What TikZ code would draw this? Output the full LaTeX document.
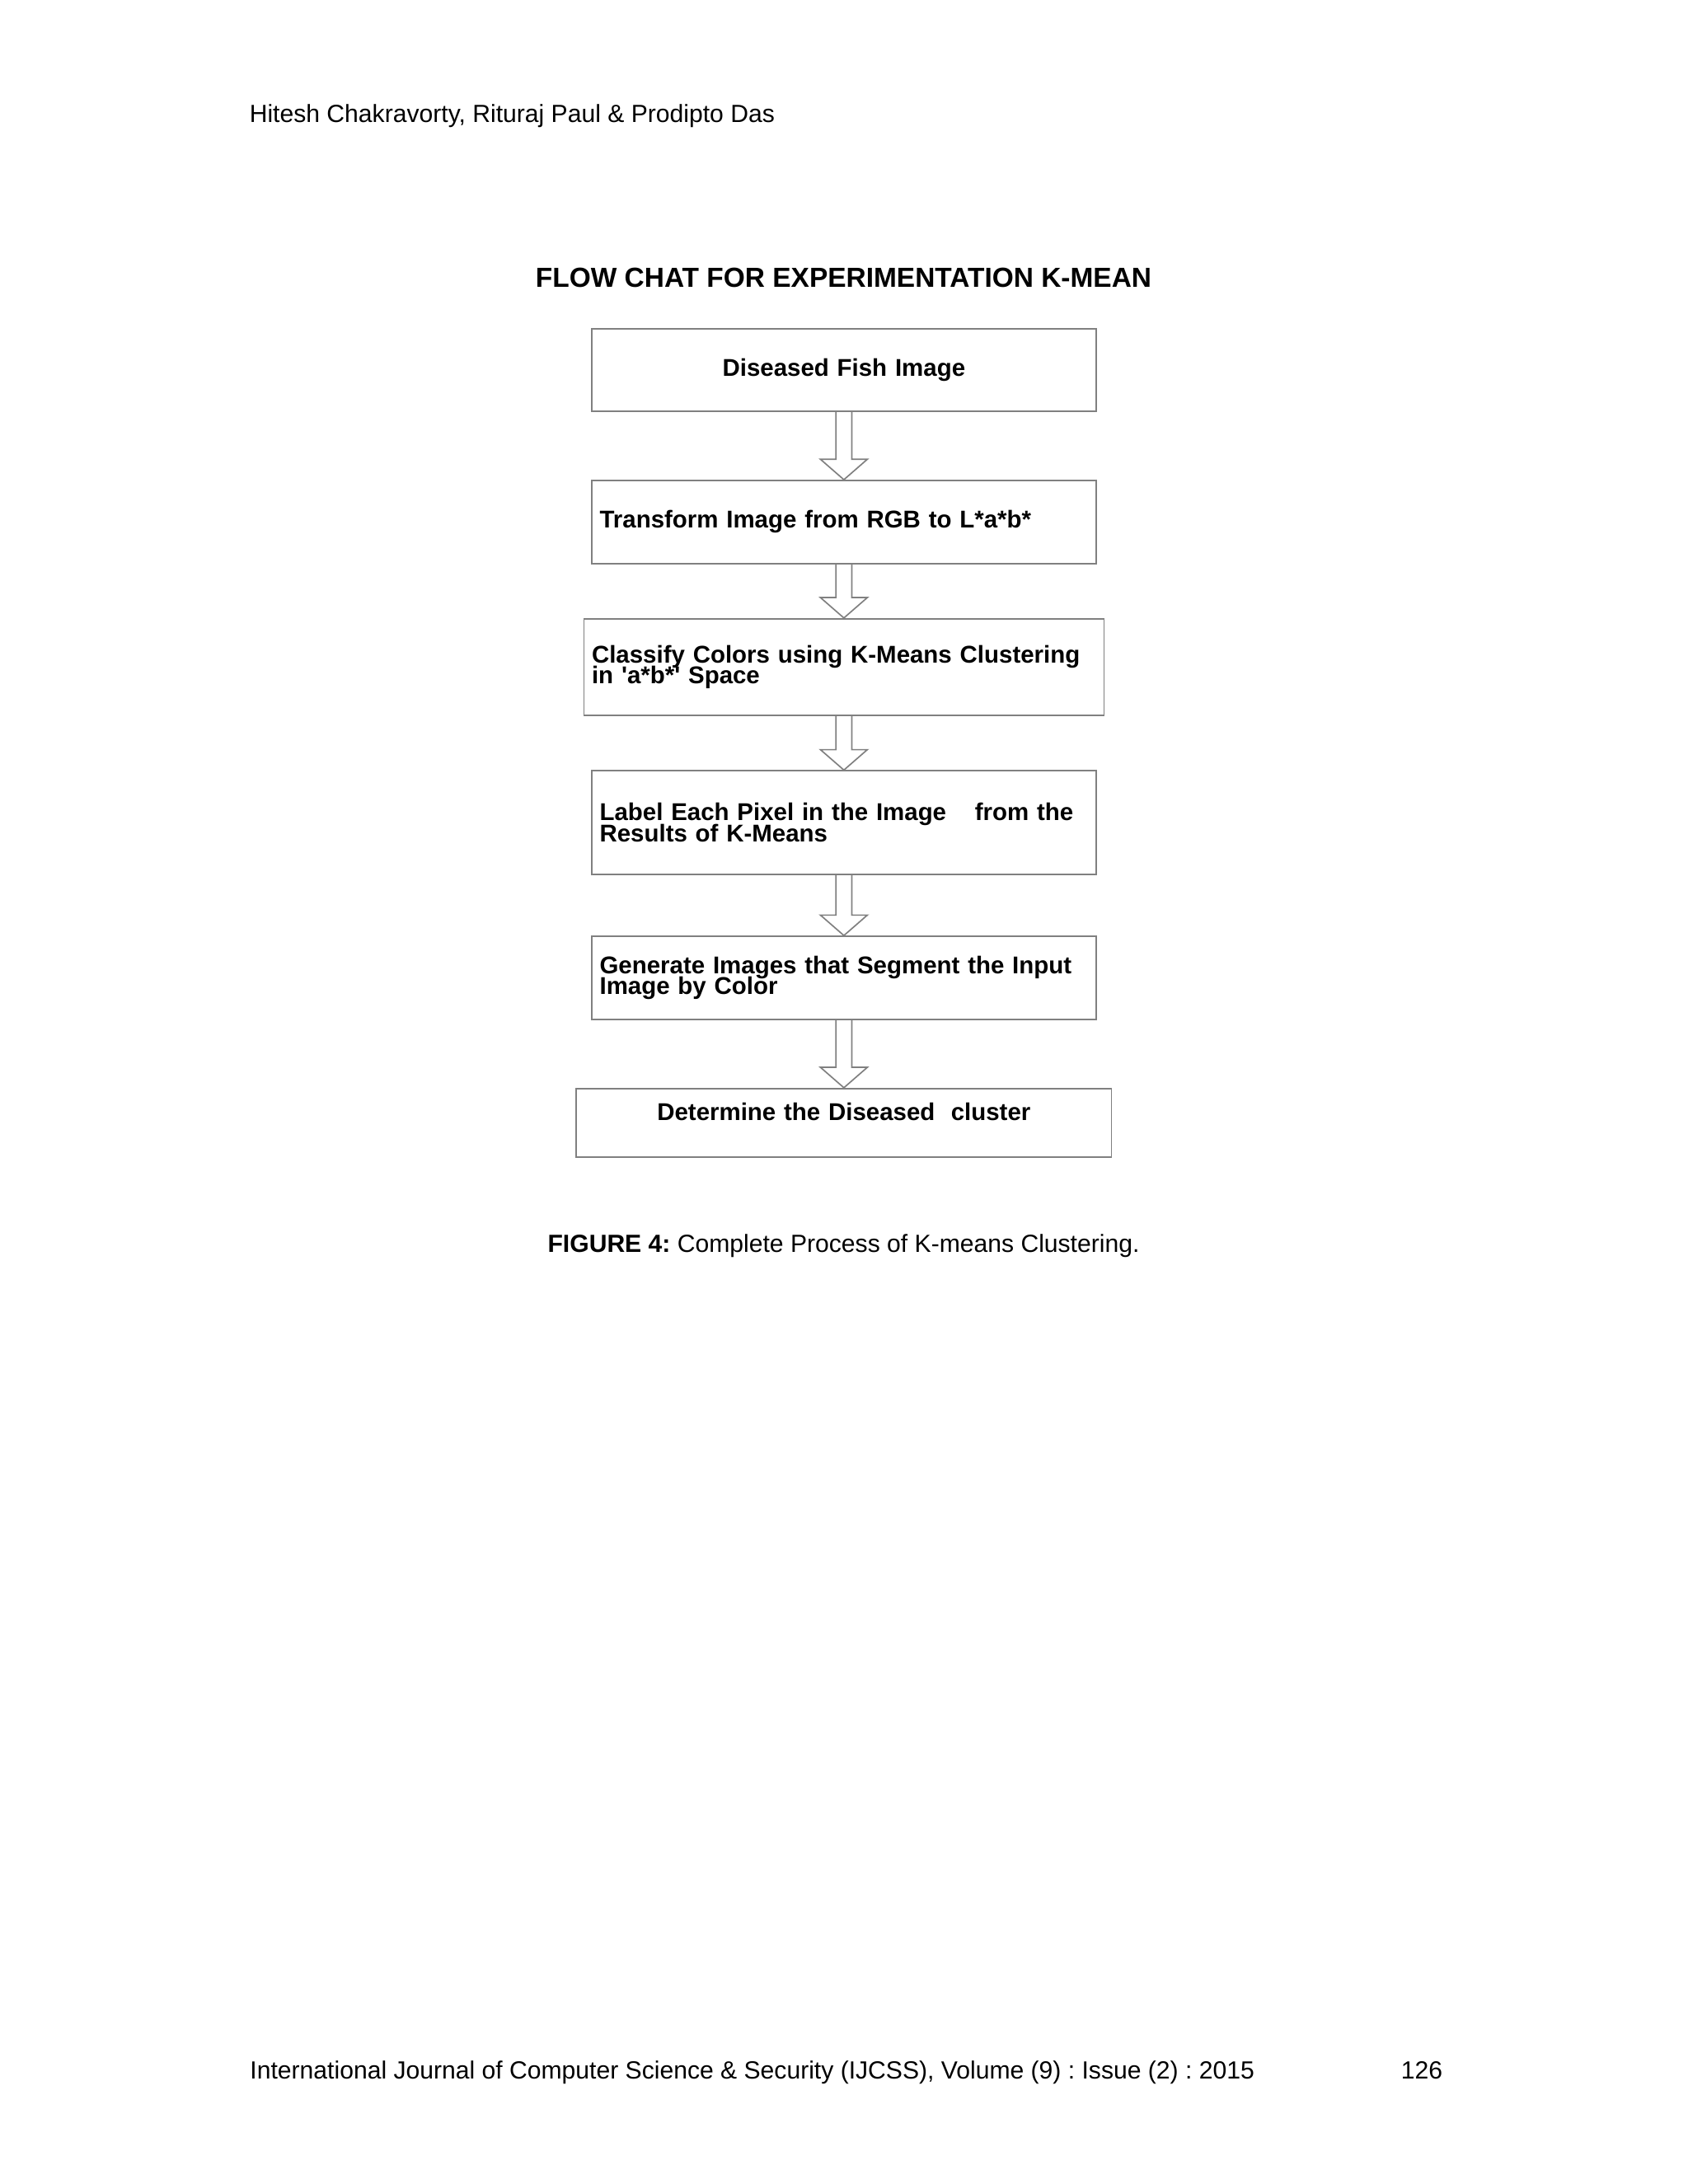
\documentclass[tikz,border=0pt]{standalone}
\usepackage{fontspec}
\setmainfont{Liberation Sans}
\usetikzlibrary{calc}
\frenchspacing

\tikzset{
  flowbox/.style={draw=gray, line width=0.5pt, fill=white, inner xsep=2.9pt, inner ysep=0pt,
    font=\bfseries\fontsize{8.8}{7.7}\selectfont,
    execute at begin node={\lineskiplimit=-10pt\relax\lineskip=0pt\relax}},
  blockarrow/.style={draw=gray, line width=0.5pt},
  pagetext/.style={inner sep=0pt, anchor=base west, font=\fontsize{9}{11}\selectfont}
}

\begin{document}
\begin{tikzpicture}[x=1pt,y=-1pt]
  \useasboundingbox (0,0) rectangle (612,792);
  \fill[white] (0,0) rectangle (612,792);

  \node[pagetext] (header) at (90.3,44.3) {Hitesh Chakravorty, Rituraj Paul \& Prodipto Das};
  \node[inner sep=0pt, anchor=base, font=\bfseries\fontsize{10}{12}\selectfont] (title) at (305.9,104.3)
    {FLOW CHAT FOR EXPERIMENTATION K-MEAN};

  \node[flowbox, text width=177.1pt, align=center, minimum height=29.9pt] (b1) at (306,134.2)
    {Diseased Fish Image};
  \node[flowbox, text width=177.1pt, align=left, minimum height=30.2pt] (b2) at (306,189.3)
    {Transform Image from RGB to L*a*b*};
  \node[flowbox, text width=182.8pt, align=left, minimum height=35.1pt] (b3) at (306,241.9)
    {Classify Colors using K-Means Clustering\\in \textquotesingle a*b*\textquotesingle{} Space};
  \node[flowbox, text width=177.1pt, align=left, minimum height=37.6pt] (b4) at (306,298.3)
    {Label Each Pixel in the Image\hspace{10.4pt}from the\\Results of K-Means};
  \node[flowbox, text width=177.1pt, align=left, minimum height=30.2pt] (b5) at (306,354.6)
    {Generate Images that Segment the Input\\Image by Color};
  \node[flowbox, text width=188.2pt, align=center, minimum height=25pt, text depth=7.9pt] (b6) at (306,407.2)
    {Determine the Diseased\hspace{5.8pt}cluster};

  \foreach \a/\b in {b1/b2,b2/b3,b3/b4,b4/b5,b5/b6}
    \draw[blockarrow] let \p1=(\a.south), \p2=(\b.north) in
      (\x1-2.9pt,\y1) -- (\x1-2.9pt,\y2+7.4pt) -- (\x1-8.5pt,\y2+7.4pt) -- (\p2)
      -- (\x1+8.5pt,\y2+7.4pt) -- (\x1+2.9pt,\y2+7.4pt) -- (\x1+2.9pt,\y1);

  \node[inner sep=0pt, anchor=base, font=\fontsize{9}{11}\selectfont] (caption) at (305.9,454.2)
    {\textbf{FIGURE 4:} Complete Process of K-means Clustering.};

  \node[pagetext] (footer) at (90.5,754)
    {International Journal of Computer Science \& Security (IJCSS), Volume (9) : Issue (2) : 2015};
  \node[pagetext] (pageno) at (507.8,754) {126};
\end{tikzpicture}
\end{document}
